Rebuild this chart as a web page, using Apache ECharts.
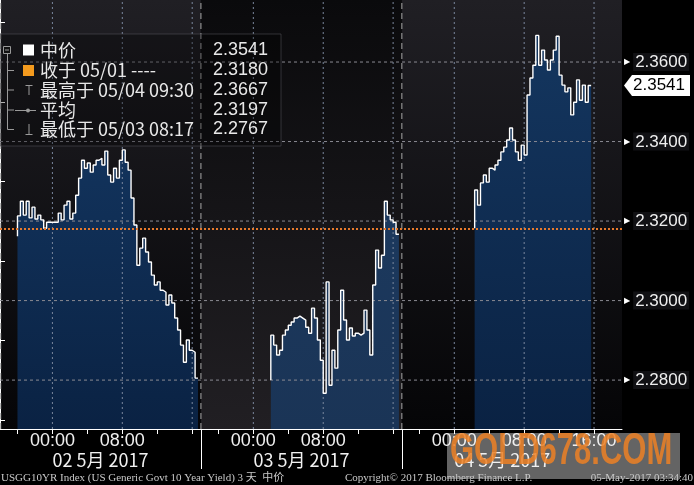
<!DOCTYPE html>
<html><head><meta charset="utf-8">
<script src="https://cdn.jsdelivr.net/npm/echarts@6/dist/echarts.min.js"></script>
<style>html,body{margin:0;padding:0;background:#000;}#c{width:694px;height:485px;}</style>
</head><body><div id="c"></div>
<script>
// ---------------- data ----------------
const day1Start = '05/01 20:00';
const day2Start = '05/03 02:00';
const day3Start = '05/04 02:20';
const stepMinutes = 20;
const day1Values = [2.3162, 2.3213, 2.3250, 2.3215, 2.3250, 2.3208, 2.3235, 2.3205, 2.3215, 2.3203,
  2.3182, 2.3197, 2.3197, 2.3197, 2.3197, 2.3220, 2.3203, 2.3240, 2.3250, 2.3205,
  2.3220, 2.3265, 2.3308, 2.3353, 2.3333, 2.3346, 2.3323, 2.3341, 2.3353, 2.3358,
  2.3341, 2.3376, 2.3316, 2.3298, 2.3333, 2.3308, 2.3353, 2.3379, 2.3348, 2.3328,
  2.3258, 2.3190, 2.3089, 2.3132, 2.3157, 2.3122, 2.3097, 2.3064, 2.3039, 2.3047,
  2.3026, 2.3021, 2.2989, 2.3014, 2.2994, 2.2956, 2.2926, 2.2888, 2.2845, 2.2901,
  2.2875, 2.2870, 2.2805];
const day2Values = [2.2800, 2.2913, 2.2888, 2.2863, 2.2875, 2.2913, 2.2926, 2.2938, 2.2946, 2.2956,
  2.2961, 2.2956, 2.2951, 2.2933, 2.2918, 2.2981, 2.2956, 2.2901, 2.2850, 2.2767,
  2.3047, 2.2787, 2.2875, 2.2830, 2.2926, 2.3026, 2.2951, 2.2901, 2.2931, 2.2911,
  2.2918, 2.2913, 2.2918, 2.2976, 2.2926, 2.2863, 2.3039, 2.3127, 2.3082, 2.3114,
  2.3250, 2.3215, 2.3203, 2.3197, 2.3167];
const day3Values = [2.3182, 2.3278, 2.3240, 2.3296, 2.3316, 2.3298, 2.3333, 2.3328, 2.3341, 2.3353,
  2.3374, 2.3386, 2.3404, 2.3434, 2.3404, 2.3374, 2.3353, 2.3391, 2.3366, 2.3517,
  2.3560, 2.3592, 2.3667, 2.3592, 2.3630, 2.3605, 2.3580, 2.3605, 2.3630, 2.3665,
  2.3567, 2.3542, 2.3525, 2.3535, 2.3467, 2.3499, 2.3555, 2.3504, 2.3542, 2.3499,
  2.3541];
const prevClose = 2.3180;
const lastPrice = 2.3541;
const yMajorTicks = [2.28, 2.30, 2.32, 2.34, 2.36];
const yMinorTicks = [2.27, 2.29, 2.31, 2.33, 2.35, 2.37];
const timeLabelTimes = ['05/02 00:00', '05/02 08:00', '05/03 00:00', '05/03 08:00', '05/04 00:00', '05/04 08:00', '05/04 16:00'];
const gridTimes = ['05/02 00:00', '05/02 08:00', '05/02 16:00', '05/03 00:00', '05/03 08:00', '05/03 16:00', '05/04 00:00', '05/04 08:00', '05/04 16:00'];
const dayLabels = ['02 5月 2017', '03 5月 2017', '04 5月 2017'];
const legendLabels = ['中价', '收于 05/01 ----', '最高于 05/04 09:30', '平均', '最低于 05/03 08:17'];
const legendValues = ['2.3541', '2.3180', '2.3667', '2.3197', '2.2767'];
const footerLeft = 'USGG10YR Index (US Generic Govt 10 Year Yield) 3 天  中价';
const footerMid = 'Copyright© 2017 Bloomberg Finance L.P.';
const footerRight = '05-May-2017 03:34:40';
const watermark = 'GOLD678.COM';

// ---------------- time scale (trading hours, 17:00-18:00 gap removed) ----------------
const SESSION = 23;
const X_MAX = 71.2;
const Y_MIN = 2.2677, Y_MAX = 2.3756;
function toT(s) {
  const [d, tm] = s.split(' ');
  const day = +d.split('/')[1];
  const [h, m] = tm.split(':').map(Number);
  if (h >= 18) return (day - 1) * SESSION + (h - 18) + m / 60;
  return (day - 2) * SESSION + h + 6 + m / 60;
}
function tLabel(t) {
  const s = Math.floor(t / SESSION + 1e-9);
  const off = t - s * SESSION;
  const hh = Math.round((18 + off) % 24);
  return (hh < 10 ? '0' : '') + hh + ':00';
}
const tickTs = [];
for (let s = 0; s < 3; s++) [2, 6, 10, 14, 18, 22].forEach(o => tickTs.push(s * SESSION + o));
const sepTs = [0.08, SESSION, 2 * SESSION];
const panelRanges = [[0, SESSION], [SESSION, 2 * SESSION], [2 * SESSION, X_MAX]];

function build(start, vals) {
  const t0 = toT(start);
  return vals.map((v, i) => [t0 + i * stepMinutes / 60, v]);
}
const days = [build(day1Start, day1Values), build(day2Start, day2Values), build(day3Start, day3Values)];

const grad = (a, b) => new echarts.graphic.LinearGradient(0, 0, 0, 1, [{offset: 0, color: a}, {offset: 1, color: b}]);
const fillColors = [['#12335c', '#0a2243'], ['#1c395e', '#1a3456'], ['#14365f', '#0a2243']];
const panelColors = [['#201f24', '#050507'], ['#0a0a0c', '#211f23'], ['#201f24', '#050507']];

const FONT = '"Liberation Sans", "Noto Sans CJK SC", sans-serif';
const CJK = '"Noto Sans CJK SC", "Liberation Sans", sans-serif';

const series = [];
// area fills
days.forEach((d, k) => series.push({
  type: 'line', data: d, step: 'start', symbol: 'none', z: 1, silent: true,
  lineStyle: {width: 0, opacity: 0},
  areaStyle: {origin: 'start', opacity: 1, color: grad(fillColors[k][0], fillColors[k][1])}
}));
// grid lines as plain dashed line series
const gridSeries = (data, color, dash) => ({
  type: 'line', data: data, symbol: 'none', z: 2, silent: true, animation: false,
  lineStyle: {color: color, width: 1, type: dash}
});
yMajorTicks.forEach(v => series.push(gridSeries([[0, v], [X_MAX, v]], '#8a8a92', [3, 3])));
gridTimes.forEach(s => series.push(gridSeries([[toT(s), Y_MIN], [toT(s), Y_MAX]], '#7b889e', [2, 3])));
sepTs.forEach(t => series.push(gridSeries([[t, Y_MIN], [t, Y_MAX]], '#a8a8a8', [6, 4])));
// price lines
days.forEach((d, k) => {
  const s = {
    type: 'line', data: d, step: 'start', symbol: 'none', z: 3, silent: true,
    lineStyle: {color: '#ffffff', width: 1.4}
  };
  if (k === 2) {
    s.markLine = {
      silent: true, symbol: 'none', precision: 6, label: {show: false}, animation: false,
      data: [{yAxis: prevClose, lineStyle: {color: '#e87a2c', type: [2, 2], width: 2}}]
    };
  }
  series.push(s);
});

const legendY = [50, 70.5, 90, 110, 129.5];
const grey = '#9a9a9a';
const staticGraphics = [
  {type: 'rect', z: 10, shape: {x: 0, y: 34, width: 281, height: 112}, style: {fill: 'rgba(0,0,0,0.3)', stroke: 'rgba(90,90,95,0.5)', lineWidth: 1}},
  {type: 'line', z: 11, shape: {x1: 7.5, y1: 53, x2: 7.5, y2: 129.5}, style: {stroke: grey, lineWidth: 1}},
  ...legendY.slice(1).map(y => ({type: 'line', z: 11, shape: {x1: 7.5, y1: y, x2: 14, y2: y}, style: {stroke: grey, lineWidth: 1}})),
  {type: 'rect', z: 11, shape: {x: 3.5, y: 46.5, width: 7, height: 7}, style: {fill: '#111', stroke: grey, lineWidth: 1}},
  {type: 'line', z: 12, shape: {x1: 5, y1: 50, x2: 9, y2: 50}, style: {stroke: grey, lineWidth: 1}},
  {type: 'rect', z: 11, shape: {x: 23, y: 44.5, width: 11, height: 11}, style: {fill: '#ffffff'}},
  {type: 'rect', z: 11, shape: {x: 23, y: 65, width: 11, height: 11}, style: {fill: '#f39a1e'}},
  {type: 'line', z: 11, shape: {x1: 25.5, y1: 85.5, x2: 32.5, y2: 85.5}, style: {stroke: grey, lineWidth: 1}},
  {type: 'line', z: 11, shape: {x1: 29, y1: 85.5, x2: 29, y2: 95}, style: {stroke: grey, lineWidth: 1}},
  {type: 'line', z: 11, shape: {x1: 15, y1: 110.5, x2: 36, y2: 110.5}, style: {stroke: grey, lineWidth: 1}},
  {type: 'circle', z: 12, shape: {cx: 28, cy: 110.5, r: 2}, style: {fill: grey}},
  {type: 'line', z: 11, shape: {x1: 29, y1: 124, x2: 29, y2: 134}, style: {stroke: grey, lineWidth: 1}},
  {type: 'line', z: 11, shape: {x1: 25.5, y1: 134.5, x2: 32.5, y2: 134.5}, style: {stroke: grey, lineWidth: 1}},
  ...legendLabels.map((s, i) => ({type: 'text', z: 12, x: 40, y: legendY[i], style: {text: s, fill: '#e8e8e8', font: '18px ' + CJK, textVerticalAlign: 'middle'}})),
  ...legendValues.map((s, i) => ({type: 'text', z: 12, x: 268, y: legendY[i], style: {text: s, fill: '#e8e8e8', font: '18px ' + FONT, textAlign: 'right', textVerticalAlign: 'middle'}})),
  {type: 'text', z: 12, x: 1, y: 478, style: {text: footerLeft, fill: '#c8c8c8', font: '11px "Liberation Serif", "Noto Sans CJK SC", serif', textVerticalAlign: 'middle'}},
  {type: 'text', z: 12, x: 345, y: 478, style: {text: footerMid, fill: '#c8c8c8', font: '11px "Liberation Serif", serif', textVerticalAlign: 'middle'}},
  {type: 'text', z: 12, x: 693, y: 478, style: {text: footerRight, fill: '#c8c8c8', font: '11px "Liberation Serif", serif', textAlign: 'right', textVerticalAlign: 'middle'}},
  {type: 'rect', z: -2, shape: {x: 447, y: 433, width: 233, height: 46}, style: {fill: 'rgba(125,125,125,0.8)'}},
  {type: 'text', z: 15, x: 450, y: 474, scaleY: 1.45, originX: 0, originY: 0, style: {text: watermark, fill: 'rgba(236,128,36,0.85)', font: 'bold 31px "Liberation Sans", sans-serif', textVerticalAlign: 'bottom'}}
];

const option = {
  backgroundColor: '#000000',
  animation: false,
  grid: {left: 0, top: 0, right: 72, bottom: 56},
  xAxis: [
    {
      type: 'value', min: 0, max: X_MAX, position: 'bottom',
      axisLine: {show: true, lineStyle: {color: '#ffffff', width: 1}},
      axisTick: {show: true, inside: false, length: 5, customValues: tickTs, lineStyle: {color: '#ffffff'}},
      axisLabel: {show: true, customValues: timeLabelTimes.map(toT), formatter: v => tLabel(v), color: '#f0f0f0', fontSize: 18, fontFamily: FONT, margin: 3},
      splitLine: {show: false}
    },
    {
      type: 'value', min: 0, max: X_MAX, position: 'bottom', offset: 20,
      axisLine: {show: false}, axisTick: {show: false}, splitLine: {show: false},
      axisLabel: {show: true, customValues: dayLabels.map((_, k) => k * SESSION + SESSION / 2),
        formatter: v => dayLabels[Math.floor(v / SESSION)], color: '#f0f0f0', fontSize: 18, fontFamily: CJK, margin: 2}
    },
    {
      type: 'value', min: 0, max: X_MAX, position: 'bottom',
      axisLine: {show: false}, splitLine: {show: false}, axisLabel: {show: false},
      axisTick: {show: true, inside: false, length: 40, customValues: sepTs.slice(1), lineStyle: {color: '#ffffff'}}
    }
  ],
  yAxis: {
    type: 'value', min: Y_MIN, max: Y_MAX, position: 'right',
    axisLine: {show: true, lineStyle: {color: '#ffffff', width: 1}},
    axisTick: {show: true, inside: false, length: 5, customValues: yMinorTicks, lineStyle: {color: '#ffffff'}},
    axisLabel: {
      show: true, customValues: yMajorTicks, margin: 2,
      formatter: v => '{t|▶}{v|' + v.toFixed(4) + '}',
      rich: {
        t: {fontFamily: '"DejaVu Sans"', fontSize: 8, color: '#ffffff', padding: [0, 3, 0, 0]},
        v: {fontFamily: FONT, fontSize: 17, color: '#eeeeee', backgroundColor: '#111114', padding: [1, 2, 0, 2]}
      }
    },
    splitLine: {show: false}
  },
  series: series,
  graphic: staticGraphics
};

const chart = echarts.init(document.getElementById('c'));
chart.setOption(option);

// panels and current-price marker, placed through the axes' own scales
const X = v => chart.convertToPixel({xAxisIndex: 0}, v);
const Y = v => chart.convertToPixel({yAxisIndex: 0}, v);
const yTop = Y(Y_MAX), yBot = Y(Y_MIN), xR = X(X_MAX);
const panels = panelRanges.map((r, k) => ({
  type: 'rect', z: -10, silent: true,
  shape: {x: X(r[0]), y: yTop, width: X(r[1]) - X(r[0]), height: yBot - yTop},
  style: {fill: grad(panelColors[k][0], panelColors[k][1])}
}));
const py = Y(lastPrice);
chart.setOption({
  graphic: staticGraphics.concat(panels, [
    {type: 'polygon', z: 20, shape: {points: [[xR + 2, py], [xR + 10, py - 10.5], [xR + 68, py - 10.5], [xR + 68, py + 10.5], [xR + 10, py + 10.5]]}, style: {fill: '#ffffff'}},
    {type: 'text', z: 21, x: xR + 11, y: py, style: {text: lastPrice.toFixed(4), fill: '#000000', font: '17px ' + FONT, textVerticalAlign: 'middle'}}
  ])
});
</script></body></html>
